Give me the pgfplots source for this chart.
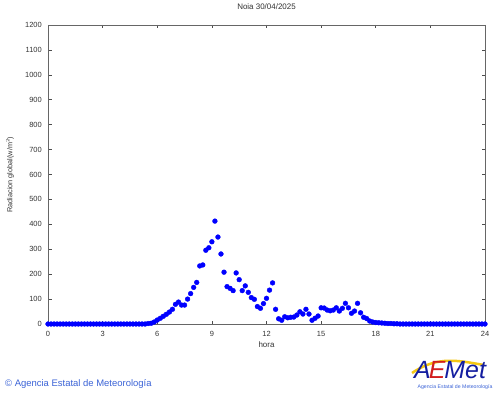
\documentclass[border=0pt]{standalone}
\usepackage{fontspec}
\setmainfont{Liberation Sans}
\usepackage{pgfplots}
\pgfplotsset{compat=1.18}
\definecolor{aemetblue}{RGB}{60,100,215}
\definecolor{logoblue}{RGB}{20,30,160}
\definecolor{logored}{RGB}{210,30,30}
\definecolor{logoyellow}{RGB}{245,200,20}
\begin{document}
\begin{tikzpicture}[x=1bp,y=1bp]
\useasboundingbox[fill=white] (0,0) rectangle (500,395);
\begin{axis}[
  scale only axis, width=437bp, height=299bp,
  at={(48bp,71bp)}, anchor=south west,
  xmin=0, xmax=1440, ymin=0, ymax=1200,
  xtick={0,180,360,540,720,900,1080,1260,1440},
  xticklabels={0,3,6,9,12,15,18,21,24},
  ytick={0,100,...,1200},
  tick align=inside, major tick length=3.5bp,
  tick style={black!70, line width=0.6bp},
  axis line style={black!60, line width=0.9bp},
  /pgf/number format/assume math mode=true,
  /pgf/number format/1000 sep={},
  ticklabel style={font=\fontsize{7.5}{9}\selectfont, text=black!80},
  xticklabel style={anchor=center, yshift=-9.7bp, inner sep=0pt},
  yticklabel style={anchor=east, xshift=-6bp, inner sep=0pt},
  title={Noia 30/04/2025},
  title style={at={(axis description cs:0.5,1)}, anchor=center, yshift=12.5bp, font=\fontsize{8}{9.6}\selectfont, text=black!80},
  xlabel={hora},
  every axis x label/.style={at={(axis description cs:0.5,0)}, anchor=center, yshift=-20.7bp, font=\fontsize{8}{9.6}\selectfont, text=black!80},
  ylabel={Radiacion global(w/m$^{2}$)},
  every axis y label/.style={at={(axis description cs:-0.087,0.5)}, rotate=90, anchor=center, font=\fontsize{7.3}{9}\selectfont, text=black!80},
  clip=false,
]
\addplot[only marks, mark=*, mark size=2.4bp, color={rgb,255:red,0;green,0;blue,255}] table[x=t, y=v] {
t v
0 0
10 0
20 0
30 0
40 0
50 0
60 0
70 0
80 0
90 0
100 0
110 0
120 0
130 0
140 0
150 0
160 0
170 0
180 0
190 0
200 0
210 0
220 0
230 0
240 0
250 0
260 0
270 0
280 0
290 0
300 0
310 0
320 0
330 2
340 3
350 8
360 16
370 23
380 31
390 39
400 48
410 59
420 79
430 88
440 76
450 76
460 100
470 122
480 147
490 167
500 233
510 237
520 296
530 306
540 330
550 413
560 349
570 281
580 208
590 150
600 143
610 134
620 205
630 178
640 134
650 153
660 127
670 106
680 99
690 70
700 63
710 82
720 103
730 136
740 165
750 59
760 21
770 15
780 29
790 25
800 27
810 28
820 36
830 49
840 40
850 59
860 40
870 15
880 23
890 32
900 65
910 64
920 56
930 53
940 56
950 65
960 52
970 63
980 83
990 65
1000 43
1010 52
1020 83
1030 45
1040 27
1050 22
1060 12
1070 8
1080 6
1090 5
1100 4
1110 3
1120 2
1130 2
1140 1
1150 1
1160 0
1170 0
1180 0
1190 0
1200 0
1210 0
1220 0
1230 0
1240 0
1250 0
1260 0
1270 0
1280 0
1290 0
1300 0
1310 0
1320 0
1330 0
1340 0
1350 0
1360 0
1370 0
1380 0
1390 0
1400 0
1410 0
1420 0
1430 0
1440 0
};
\end{axis}
\node[anchor=west, inner sep=0pt, text=aemetblue, font=\fontsize{9.5}{11}\selectfont] at (5,11) {© Agencia Estatal de Meteorología};
% logo
\draw[logoyellow, line width=2.5bp] (412,22) .. controls (438,40) and (460,34) .. (484,30);
\node[anchor=base west, inner sep=0pt, font=\fontsize{25}{27}\itshape\selectfont] at (414,17) {\textcolor{logoblue}{A}\kern-2bp\textcolor{logored}{E}\kern-1bp\textcolor{logoblue}{Met}};
\node[anchor=center, inner sep=0pt, text=aemetblue, font=\fontsize{5.2}{6}\selectfont] at (455,8) {Agencia Estatal de Meteorología};
\end{tikzpicture}
\end{document}
